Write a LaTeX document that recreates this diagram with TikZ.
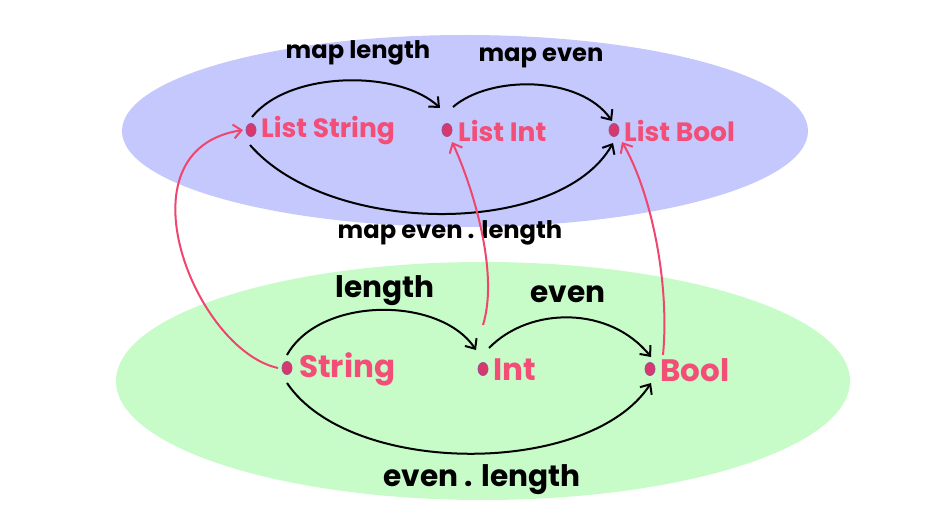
\documentclass[tikz,border=0pt]{standalone}
\usepackage{fontspec}
\setmainfont{Poppins}
\usetikzlibrary{arrows.meta,shapes.geometric,calc}
\definecolor{bluebg}{HTML}{C5C8FD}
\definecolor{greenbg}{HTML}{C7FCC8}
\definecolor{pinktxt}{HTML}{F24E78}
\definecolor{pinkline}{HTML}{F0456F}
\definecolor{dotfill}{HTML}{D9386C}
\definecolor{dotedge}{HTML}{9A4F95}
\tikzset{
  dotn/.style={ellipse,fill=dotfill,draw=dotedge,line width=0.8pt,minimum width=10pt,minimum height=13pt,inner sep=0pt},
  ulabel/.style={anchor=west,text=pinktxt,font=\fontsize{26.5}{28}\selectfont\bfseries,inner sep=0pt},
  llabel/.style={anchor=west,text=pinktxt,font=\fontsize{31}{33}\selectfont\bfseries,inner sep=0pt},
  uarrtxt/.style={font=\fontsize{24.2}{26}\selectfont\bfseries,inner sep=0pt},
  larrtxt/.style={font=\fontsize{29.6}{31}\selectfont\bfseries,inner sep=0pt},
  blk/.style={draw=black,line width=2pt,-{Straight Barb[length=8pt,width=14pt,line width=2pt]}},
  pnk/.style={draw=pinkline,line width=2pt,-{Straight Barb[length=8pt,width=14pt,line width=2pt]}}
}
\begin{document}
\begin{tikzpicture}[x=1pt,y=-1pt]
\useasboundingbox (0,0) rectangle (945,532);
\fill[bluebg] (465,131) ellipse [x radius=343, y radius=96];
\fill[greenbg] (483,381) ellipse [x radius=367, y radius=119];
% dots
\node[dotn] (ls) at (251,130) {};
\node[dotn] (li) at (447,130) {};
\node[dotn] (lb) at (614,130) {};
\node[dotn] (s) at (287,368) {};
\node[dotn] (i) at (483,369) {};
\node[dotn] (b) at (650,369) {};
% labels
\node[ulabel] (lst) at (261,131) {List String};
\node[ulabel] (lit) at (458,131) {List Int};
\node[ulabel] (lbt) at (624,131) {List Bool};
\node[llabel] (st) at (299,369) {String};
\node[llabel] (it) at (493,370) {Int};
\node[llabel] (bt) at (660,370) {Bool};
% arrow labels
\node[uarrtxt] (t1) at (358,53) {map length};
\node[uarrtxt] (t2) at (541,58) {map even};
\node[uarrtxt] (t3) at (450,233) {map even . length};
\node[larrtxt] (t4) at (385,291) {length};
\node[larrtxt] (t5) at (568,294) {even};
\node[larrtxt] (t6) at (482,480) {even . length};
% black arrows
\draw[blk] ($(ls)+(1,-13)$) .. controls (290,70) and (400,70) .. ($(li)+(-7,-22)$);
\draw[blk] ($(li)+(6,-23)$) .. controls (490,75) and (580,75) .. ($(lb)+(-2,-9)$);
\draw[blk] ($(ls)+(-1,15)$) .. controls (330,237) and (560,237) .. ($(lb)+(-1,13)$);
\draw[blk] ($(s)+(0,-13)$) .. controls (320,296) and (440,296) .. ($(i)+(-7,-19)$);
\draw[blk] ($(i)+(6,-21)$) .. controls (530,306) and (610,306) .. ($(b)+(1,-12)$);
\draw[blk] ($(s)+(0,15)$) .. controls (350,477) and (590,477) .. ($(b)+(1,14)$);
% pink arrows
\draw[pnk] ($(s)+(-9,0)$) .. controls (195,350) and (115,150) .. ($(ls)+(-8,0)$);
\draw[pnk] ($(i)+(0,-44)$) .. controls (500,270) and (470,180) .. ($(li)+(5,12)$);
\draw[pnk] ($(b)+(13,-14)$) .. controls (670,280) and (650,190) .. ($(lb)+(8,12)$);
\end{tikzpicture}
\end{document}
